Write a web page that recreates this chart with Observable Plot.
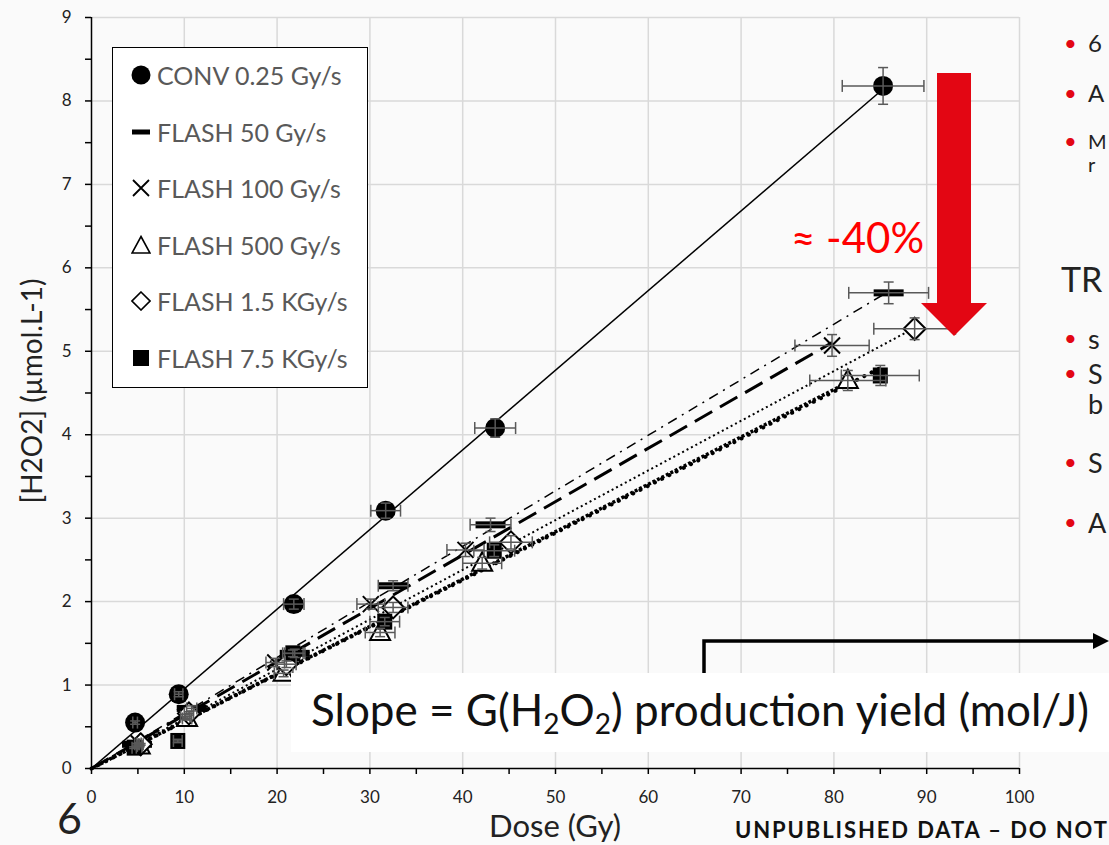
<!DOCTYPE html>
<html><head><meta charset="utf-8">
<script src="https://cdn.jsdelivr.net/npm/d3@7"></script>
<script src="https://cdn.jsdelivr.net/npm/@observablehq/plot@0.6"></script>
<style>
body{margin:0;background:#fafafa;font-family:Lato,"Open Sans",sans-serif}
#wrap{position:relative;width:1109px;height:845px;overflow:hidden;background:#fafafa}
.abs{position:absolute;white-space:nowrap;line-height:1}
#plot{position:absolute;left:0;top:0}
.rt{position:absolute;white-space:nowrap;color:#222;line-height:1;transform:translateY(-50%)}
.bul{position:absolute;color:#e30613;font-size:22px;line-height:1;transform:translateY(-50%)}
</style></head><body><div id="wrap"><div id="plot"></div></div>
<script>
// ---- data ----
const seriesNames = ["CONV 0.25 Gy/s","FLASH 50 Gy/s","FLASH 100 Gy/s","FLASH 500 Gy/s","FLASH 1.5 KGy/s","FLASH 7.5 KGy/s"];

const convDose    = [4.7, 9.4, 21.8, 31.7, 43.5, 85.3];
const convH2O2    = [0.55, 0.89, 1.97, 3.09, 4.08, 8.18];
const convDoseErr = [0.25, 0.45, 1.1, 1.6, 2.2, 4.4];
const convH2O2Err = [0.02, 0.03, 0.06, 0.09, 0.11, 0.22];

const f50Dose    = [4.9, 10.8, 21.9, 32.5, 43.0, 85.9];
const f50H2O2    = [0.29, 0.72, 1.38, 2.19, 2.92, 5.70];
const f50DoseErr = [0.25, 0.55, 1.1, 1.6, 2.2, 4.3];
const f50H2O2Err = [0.01, 0.03, 0.05, 0.06, 0.08, 0.13];

const f100Dose    = [5.1, 10.1, 19.8, 30.1, 40.3, 79.8];
const f100H2O2    = [0.30, 0.62, 1.27, 1.97, 2.62, 5.07];
const f100DoseErr = [0.25, 0.5, 1.0, 1.5, 2.0, 4.0];
const f100H2O2Err = [0.01, 0.03, 0.05, 0.06, 0.08, 0.13];

const f500Dose    = [5.2, 10.3, 20.7, 31.1, 42.1, 81.5];
const f500H2O2    = [0.27, 0.60, 1.14, 1.63, 2.46, 4.65];
const f500DoseErr = [0.26, 0.5, 1.0, 1.6, 2.1, 4.1];
const f500H2O2Err = [0.01, 0.02, 0.04, 0.05, 0.07, 0.12];

const f1500Dose    = [5.3, 10.5, 21.0, 32.5, 45.2, 88.7];
const f1500H2O2    = [0.29, 0.66, 1.25, 1.93, 2.71, 5.27];
const f1500DoseErr = [0.27, 0.5, 1.05, 1.6, 2.3, 4.4];
const f1500H2O2Err = [0.01, 0.02, 0.04, 0.06, 0.08, 0.13];

const f7500Dose    = [4.6, 9.3, 21.7, 31.6, 43.4, 85.0];
const f7500H2O2    = [0.25, 0.33, 1.38, 1.76, 2.61, 4.71];
const f7500DoseErr = [0.23, 0.47, 1.1, 1.6, 2.2, 4.2];
const f7500H2O2Err = [0.01, 0.02, 0.04, 0.05, 0.07, 0.12];

const xTicks = [0,10,20,30,40,50,60,70,80,90,100];
const yTicks = [0,1,2,3,4,5,6,7,8,9];

// ---- build table ----
const raw = [
  [convDose, convH2O2, convDoseErr, convH2O2Err],
  [f50Dose, f50H2O2, f50DoseErr, f50H2O2Err],
  [f100Dose, f100H2O2, f100DoseErr, f100H2O2Err],
  [f500Dose, f500H2O2, f500DoseErr, f500H2O2Err],
  [f1500Dose, f1500H2O2, f1500DoseErr, f1500H2O2Err],
  [f7500Dose, f7500H2O2, f7500DoseErr, f7500H2O2Err]
];
const rows = raw.flatMap(([d,h,de,he], i) => d.map((x, j) => ({series: seriesNames[i], x, y: h[j], ex: de[j], ey: he[j]})));

// least squares through origin, drawn from 0 to the largest dose (as the Excel trendline)
const trends = raw.map(([d,h], i) => {
  const sxy = d3.sum(d, (x,j) => x*h[j]), sxx = d3.sum(d, x => x*x);
  const k = sxy/sxx, xm = d3.max(d);
  return [{series: seriesNames[i], x: 0, y: 0}, {series: seriesNames[i], x: xm, y: k*xm}];
});

// ---- styles ----
const S = f => ({draw(ctx){ f(ctx); }});
const symbols = [
  S(c=>{c.moveTo(10,0); c.arc(0,0,10,0,2*Math.PI);}),
  S(c=>{c.rect(-15,-3.5,30,7);}),
  S(c=>{c.moveTo(-8,-8); c.lineTo(8,8); c.moveTo(-8,8); c.lineTo(8,-8);}),
  S(c=>{c.moveTo(0,-11); c.lineTo(10,7.5); c.lineTo(-10,7.5); c.closePath();}),
  S(c=>{c.moveTo(0,-11); c.lineTo(11,0); c.lineTo(0,11); c.lineTo(-11,0); c.closePath();}),
  S(c=>{c.rect(-7.5,-8,15,16);})
];
const markFill   = ["black","black","none","white","white","black"];
const markStroke = ["none","none","black","black","black","none"];
const markSW     = [0,0,2,2,2,0];
const lineDash   = [null, "10,6,2,6", "20,9", "3,2", "2,3", "0.1,8"];
const lineW      = [1.5, 1.5, 3, 3.5, 2, 4];
const lineCap    = ["butt","butt","butt","butt","butt","round"];
const vcap = S(c=>{c.moveTo(0,-6); c.lineTo(0,6);});
const hcap = S(c=>{c.moveTo(-5,0); c.lineTo(5,0);});
const eb = "#595959";

const marks = [
  Plot.gridX(xTicks.slice(1), {stroke:"#d9d9d9", strokeOpacity:1, strokeWidth:1.5}),
  Plot.gridY(yTicks.slice(1), {stroke:"#d9d9d9", strokeOpacity:1, strokeWidth:1.5}),
  ...trends.map((t,i) => Plot.line(t, {x:"x", y:"y", stroke:"black", strokeWidth: lineW[i], strokeDasharray: lineDash[i], strokeLinecap: lineCap[i]})),
  ...seriesNames.map((s,i) => Plot.dot(rows.filter(r=>r.series===s), {x:"x", y:"y", symbol: symbols[i], fill: markFill[i], stroke: markStroke[i], strokeWidth: markSW[i]})),
  Plot.link(rows, {x1: d=>d.x-d.ex, x2: d=>d.x+d.ex, y1:"y", y2:"y", stroke: eb, strokeWidth:1.5}),
  Plot.link(rows, {x1:"x", x2:"x", y1: d=>d.y-d.ey, y2: d=>d.y+d.ey, stroke: eb, strokeWidth:1.5}),
  Plot.dot(rows, {x: d=>d.x-d.ex, y:"y", symbol: vcap, fill:"none", stroke: eb, strokeWidth:1.5}),
  Plot.dot(rows, {x: d=>d.x+d.ex, y:"y", symbol: vcap, fill:"none", stroke: eb, strokeWidth:1.5}),
  Plot.dot(rows, {x:"x", y: d=>d.y-d.ey, symbol: hcap, fill:"none", stroke: eb, strokeWidth:1.5}),
  Plot.dot(rows, {x:"x", y: d=>d.y+d.ey, symbol: hcap, fill:"none", stroke: eb, strokeWidth:1.5}),
  Plot.axisX(d3.range(0,100.1,5), {tickSize:6, tickPadding:16, tickFormat: d => d%10===0 ? d : "", label:null, stroke:"black", strokeWidth:1.5, fill:"#222"}),
  Plot.axisY(d3.range(0,9.01,0.5), {tickSize:6, tickPadding:14, tickFormat: d => Number.isInteger(d) ? d : "", label:null, stroke:"black", strokeWidth:1.5, fill:"#222"}),
  Plot.ruleX([0], {stroke:"black", strokeWidth:1.5}),
  Plot.ruleY([0], {stroke:"black", strokeWidth:1.5})
];

const chart = Plot.plot({
  width:1109, height:845,
  marginLeft:91, marginRight:90, marginTop:17, marginBottom:77,
  x:{domain:[0,100]}, y:{domain:[0,9]},
  style:{fontFamily:"Lato, 'Open Sans', sans-serif", fontSize:"17px", background:"transparent", overflow:"visible"},
  marks
});
document.getElementById("plot").appendChild(chart);

// ---- annotations (slide overlay) ----
const wrap = document.getElementById("wrap");
function add(html){ wrap.insertAdjacentHTML("beforeend", html); }

// legend
const legSvg = [
  '<circle cx="10" cy="10" r="9.5" fill="black"/>',
  '<rect x="1" y="7.5" width="18" height="5" fill="black"/>',
  '<path d="M2,2L18,18M2,18L18,2" stroke="black" stroke-width="1.8"/>',
  '<path d="M10,1.5L19,18L1,18Z" fill="white" stroke="black" stroke-width="1.6"/>',
  '<path d="M10,1L19,10L10,19L1,10Z" fill="white" stroke="black" stroke-width="1.6"/>',
  '<rect x="2" y="2" width="16" height="16" fill="black"/>'
];
let leg = '<div class="abs" style="left:112px;top:47px;width:256px;height:341px;background:white;border:1.5px solid black;box-sizing:border-box"></div>';
seriesNames.forEach((s,i)=>{
  const cy = 75 + i*56.5;
  leg += `<svg class="abs" style="left:131px;top:${cy-10}px" width="20" height="20">${legSvg[i]}</svg>`;
  leg += `<div class="abs" style="left:157px;top:${cy}px;transform:translateY(-50%);font-size:25px;color:#595959">${s}</div>`;
});
add(leg);

// axis titles, slide number, footer
add('<div class="abs" style="left:31px;top:391px;transform:translate(-50%,-50%) rotate(-90deg);font-size:28px;color:#222">[H2O2] (µmol.L-1)</div>');
add('<div class="abs" style="left:555px;top:825px;transform:translate(-50%,-50%);font-size:31px;color:#222">Dose (Gy)</div>');
add('<div class="abs" style="left:57px;top:817px;transform:translateY(-50%);font-size:43px;color:#222">6</div>');
add('<div class="abs" style="left:735px;top:830px;transform:translateY(-50%);font-size:22px;font-weight:bold;color:#111;letter-spacing:1.9px">UNPUBLISHED DATA – DO NOT</div>');

// red arrow and black bracket arrow
add('<svg class="abs" style="left:0;top:0" width="1109" height="845"><polygon points="937,73 971,73 971,303 987,303 954,336 921,303 937,303" fill="#e30613"/>' +
    '<polyline points="704,690 704,641 1094,641" fill="none" stroke="black" stroke-width="3.5"/>' +
    '<polygon points="1093,633 1109,641 1093,649" fill="black"/></svg>');
add('<div class="abs" style="left:791px;top:237px;transform:translateY(-50%);font-size:42px;color:#ff0000">≈ -40%</div>');

// slope box
add('<div class="abs" style="left:291px;top:673px;width:830px;height:79px;background:white"></div>');
add('<div class="abs" style="left:311px;top:712px;transform:translateY(-50%);font-size:44px;color:#111">Slope = G(H<sub style="font-size:28px;vertical-align:-8px">2</sub>O<sub style="font-size:28px;vertical-align:-8px">2</sub>) production yield (mol/J)</div>');

// clipped slide text on the right
const rtItems = [
  {t:"6", y:43, fs:24, b:true},{t:"A", y:93, fs:24, b:true},{t:"M", y:141, fs:20, b:true},{t:"r", y:164, fs:20, b:false},
  {t:"TR", y:279, fs:34, b:false, x:1061},{t:"s", y:338, fs:27, b:true},{t:"S", y:373, fs:27, b:true},{t:"b", y:403, fs:27, b:false},
  {t:"S", y:462, fs:27, b:true},{t:"A", y:522, fs:27, b:true}
];
rtItems.forEach(it=>{
  if (it.b) add(`<div class="bul" style="left:1064px;top:${it.y}px">•</div>`);
  add(`<div class="rt" style="left:${it.x||1088}px;top:${it.y}px;font-size:${it.fs}px">${it.t}</div>`);
});
</script></body></html>
